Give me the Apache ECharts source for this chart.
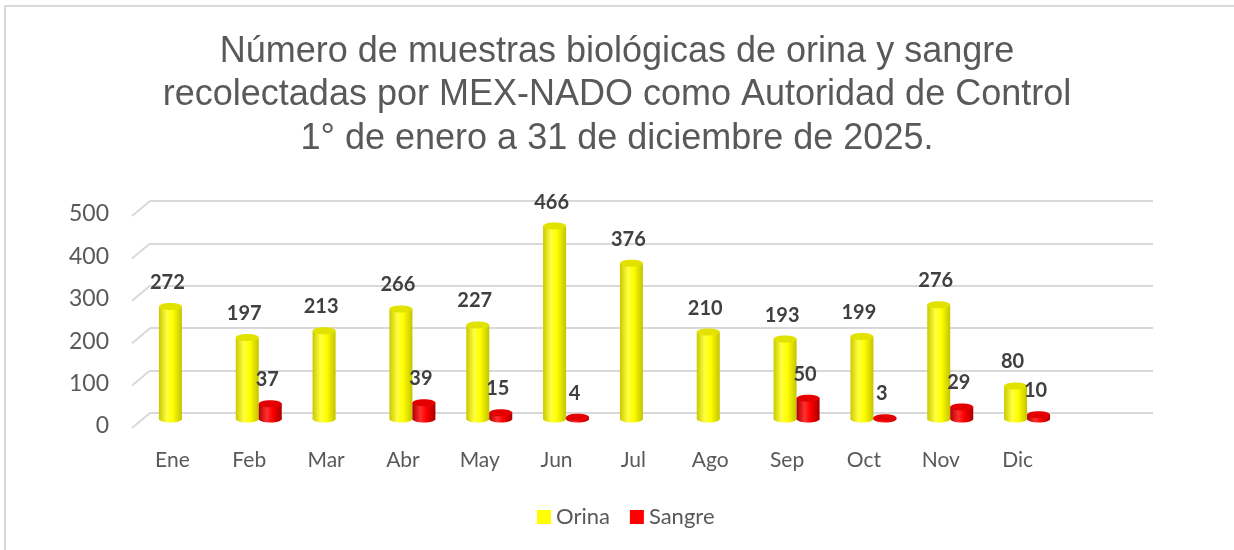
<!DOCTYPE html>
<html>
<head>
<meta charset="utf-8">
<script src="https://cdn.jsdelivr.net/npm/echarts@6/dist/echarts.min.js"></script>
<style>
  html, body { margin: 0; padding: 0; background: #fff; }
  #frame { position: absolute; left: 4px; top: 5px; width: 1230px; height: 545px;
           border-top: 2px solid #dadada; border-left: 2px solid #dadada; }
  #chart { position: absolute; left: 0; top: 0; width: 1234px; height: 550px; }
</style>
</head>
<body>
<div id="frame"></div>
<div id="chart"></div>
<script>
// datos
var meses = ['Ene', 'Feb', 'Mar', 'Abr', 'May', 'Jun', 'Jul', 'Ago', 'Sep', 'Oct', 'Nov', 'Dic'];
var orina = [272, 197, 213, 266, 227, 466, 376, 210, 193, 199, 276, 80];
var sangre = [null, 37, null, 39, 15, 4, null, null, 50, 3, 29, 10];
var yTicks = [0, 100, 200, 300, 400, 500];

var titulo = 'Número de muestras biológicas de orina y sangre\n' +
  'recolectadas por MEX-NADO como Autoridad de Control\n' +
  '1° de enero a 31 de diciembre de 2025.';

var myChart = echarts.init(document.getElementById('chart'));

// cilindro 3D falso
function cylinder(offset, colors) {
  return function (params, api) {
    var v = api.value(1);
    if (v == null || isNaN(v)) return;
    var base = api.coord([api.value(0), 0]);
    var top = api.coord([api.value(0), v]);
    var w = 23, ry = 3.5;
    var cx = base[0] + offset;
    var grad = new echarts.graphic.LinearGradient(0, 0, 1, 0, [
      { offset: 0, color: colors[0] },
      { offset: 0.35, color: colors[1] },
      { offset: 0.6, color: colors[2] },
      { offset: 1, color: colors[3] }
    ]);
    return {
      type: 'group',
      children: [
        { type: 'ellipse', shape: { cx: cx, cy: base[1], rx: w / 2, ry: ry }, style: { fill: grad } },
        { type: 'rect', shape: { x: cx - w / 2, y: top[1], width: w, height: base[1] - top[1] }, style: { fill: grad } },
        { type: 'ellipse', shape: { cx: cx, cy: top[1], rx: w / 2, ry: ry }, style: { fill: colors[4] } },
        {
          type: 'text',
          style: {
            x: cx - 3, y: top[1] - 24, text: String(v),
            align: 'center', verticalAlign: 'middle',
            fontFamily: 'Lato', fontWeight: 'bold', fontSize: 20, fill: '#404040'
          }
        }
      ]
    };
  };
}

function pares(arr) {
  return arr.map(function (v, i) { return [i, v]; });
}

var option = {
  backgroundColor: 'transparent',
  animation: false,
  title: {
    text: titulo,
    left: 'center',
    top: 25,
    textStyle: {
      fontFamily: 'Liberation Sans', fontWeight: 'normal',
      fontSize: 36, lineHeight: 43.5, color: '#595959'
    }
  },
  legend: {
    data: ['Orina', 'Sangre'],
    left: 532, top: 501,
    icon: 'rect', itemWidth: 14, itemHeight: 14, itemGap: 20,
    textStyle: { fontFamily: 'Lato', fontSize: 22, color: '#595959' }
  },
  grid: [
    { left: 134, width: 922, top: 212, height: 207 },  // barras
    { left: 150, width: 1003, top: 201, height: 212 }, // plano trasero
    { left: 134, width: 922, top: 214, height: 212 }   // etiquetas eje y
  ],
  xAxis: [
    {
      gridIndex: 0, type: 'category', data: meses,
      axisLine: { show: false }, axisTick: { show: false },
      axisLabel: { fontFamily: 'Lato', fontSize: 21, color: '#595959', margin: 31 }
    },
    { gridIndex: 1, type: 'category', data: meses, show: false },
    { gridIndex: 2, type: 'category', data: meses, show: false }
  ],
  yAxis: [
    { gridIndex: 0, type: 'value', min: 0, max: 500, interval: 100, show: false },
    {
      gridIndex: 1, type: 'value', min: 0, max: 500, interval: 100,
      axisLabel: { show: false }, axisLine: { show: false }, axisTick: { show: false },
      splitLine: { show: true, lineStyle: { color: '#d9d9d9', width: 2 } }
    },
    {
      gridIndex: 2, type: 'value', min: 0, max: 500, interval: 100,
      axisLine: { show: false }, axisTick: { show: false }, splitLine: { show: false },
      axisLabel: { fontFamily: 'Lato', fontSize: 23, color: '#595959', margin: 25 }
    }
  ],
  series: [
    {
      name: 'diag', type: 'custom', xAxisIndex: 2, yAxisIndex: 2, silent: true,
      data: yTicks.map(function (v) { return [0, v]; }),
      renderItem: function (params, api) {
        var p = api.coord([0, api.value(1)]);
        var x0 = params.coordSys.x;
        return {
          type: 'line',
          shape: { x1: x0 - 2, y1: p[1] + 2, x2: x0 + 16, y2: p[1] - 13 },
          style: { stroke: '#d9d9d9', lineWidth: 2 }
        };
      },
      legendHoverLink: false
    },
    {
      name: 'Orina', type: 'custom', xAxisIndex: 0, yAxisIndex: 0,
      itemStyle: { color: '#FFFF00' },
      data: pares(orina),
      encode: { x: 0, y: 1 },
      renderItem: cylinder(-2, ['#c9c900', '#ffff40', '#ffff00', '#c4c400', '#e2e200'])
    },
    {
      name: 'Sangre', type: 'custom', xAxisIndex: 0, yAxisIndex: 0,
      itemStyle: { color: '#FF0000' },
      data: pares(sangre),
      encode: { x: 0, y: 1 },
      renderItem: cylinder(21, ['#b00000', '#ff3030', '#ff0000', '#a80000', '#e40000'])
    }
  ]
};

myChart.setOption(option);
</script>
</body>
</html>
